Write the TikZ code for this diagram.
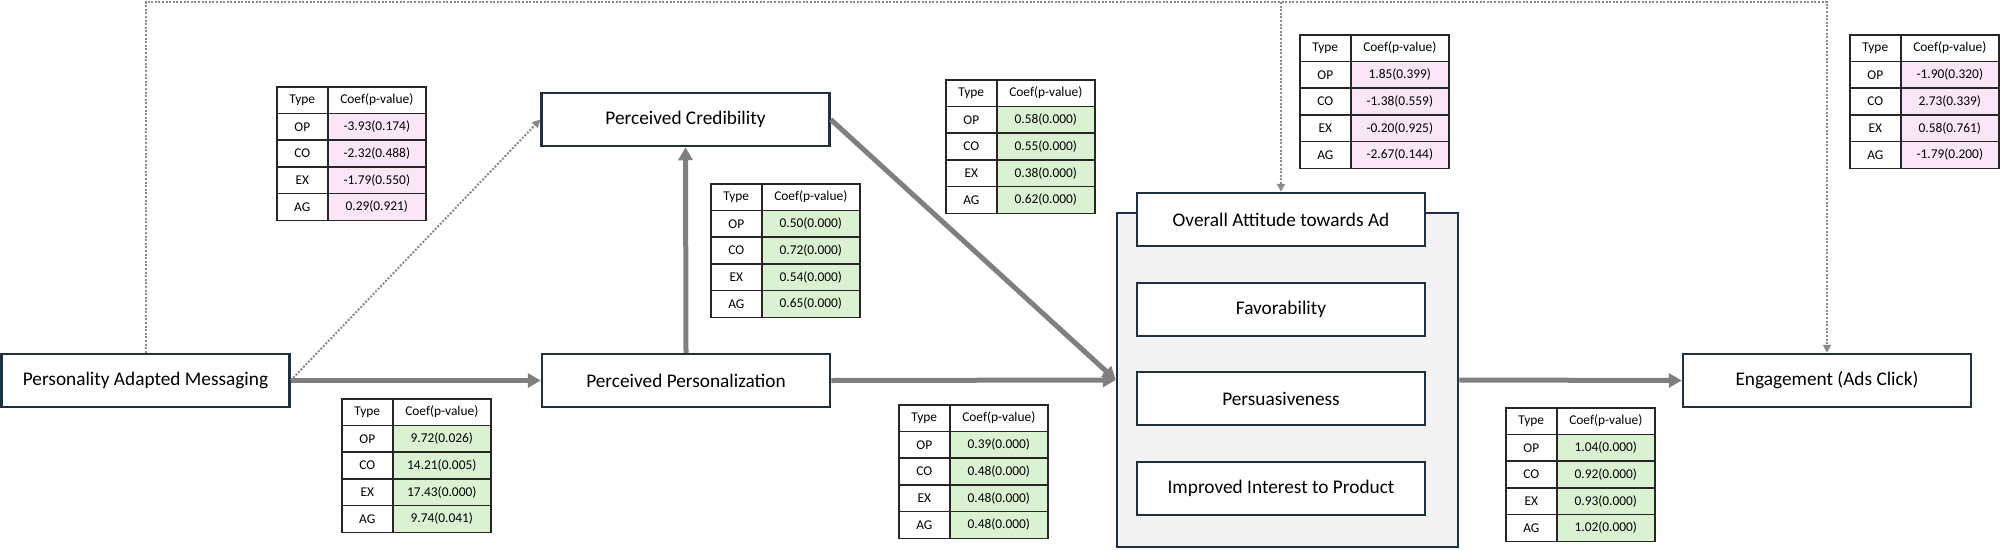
\documentclass[tikz,border=0pt]{standalone}
\usepackage{fontspec}
\setmainfont{Carlito}
\usepackage{tikz}
\usetikzlibrary{arrows.meta,positioning,matrix}
\definecolor{navy}{HTML}{1F3040}
\definecolor{arrgray}{HTML}{7F7F7F}
\definecolor{dotgray}{HTML}{8A8A8A}
\definecolor{grpgray}{HTML}{F2F2F2}
\definecolor{tabline}{HTML}{262626}
\definecolor{pinkc}{HTML}{FAE6F6}
\definecolor{greenc}{HTML}{DBF2D2}
\newcommand\bxfont{\fontsize{19.3}{23}\selectfont}
\newcommand\tblfont{\fontsize{13.4}{16}\selectfont}
\tikzset{
  blk/.style={draw=navy, line width=2.5pt, fill=white, minimum width=288pt,
              minimum height=53pt, inner sep=0pt, font=\bxfont},
  grp/.style={draw=navy, line width=2.5pt, fill=grpgray, minimum width=341pt,
              minimum height=334pt},
  cell/.style={draw=tabline, line width=1.6pt, minimum height=26.7pt,
               inner sep=0pt, font=\tblfont, fill=white, anchor=center,
               align=center},
  coeftab/.style={matrix of nodes, inner sep=0pt, outer sep=0pt,
                  matrix anchor=north west, column sep=-1.6pt, row sep=-1.6pt,
                  nodes={cell},
                  column 1/.style={nodes={text width=51pt}},
                  column 2/.style={nodes={text width=98pt, fill=#1}},
                  row 1 column 2/.style={nodes={fill=white}}},
  flow/.style={draw=arrgray, line width=5pt, -{Triangle[length=13pt,width=14pt]}},
  dotflow/.style={draw=dotgray, line width=2pt, dash pattern=on 2pt off 1.6pt,
                  -{Triangle[length=8pt,width=8pt]}},
}

\begin{document}
\begin{tikzpicture}[x=1pt,y=-1pt]
  \useasboundingbox (0,0) rectangle (2000,549);

  % main boxes
  \node[blk] (pam) at (145.5,380.5) {Personality Adapted Messaging};
  \node[blk] (cred) at (685.5,119.5) {Perceived Credibility};
  \node[blk] (pers) at (686,380.5) {Perceived Personalization};
  \node[grp] (attgrp) at (1287.5,380) {};
  \node[blk] (att) at (1281,219.5) {Overall Attitude towards Ad};
  \node[blk] (fav) at (1281,309.5) {Favorability};
  \node[blk] (persu) at (1281,398.5) {Persuasiveness};
  \node[blk] (intr) at (1281,488.5) {Improved Interest to Product};
  \node[blk] (eng) at (1827,380.5) {Engagement (Ads Click)};

  % paths
  \coordinate (top) at (0,2);
  \draw[flow] (pam.east) -- (pers.west);
  \draw[flow] (pers.north) -- (cred.south);
  \draw[flow] (cred.east) -- (attgrp.west);
  \draw[flow] (pers.east) -- (attgrp.west);
  \draw[flow] (attgrp.east) -- (eng.west);
  \draw[dotflow] (pam.east) -- (cred.west);
  \draw[dotflow] (pam.north) -- (pam.north |- top) -- (eng.north |- top) -- (eng.north);
  \draw[dotflow] (att.north |- top) -- (att.north);

  % coefficient tables
  \matrix[coeftab=pinkc] (tpamcred) at (276,86) {
    Type & Coef(p-value) \\ OP & -3.93(0.174) \\ CO & -2.32(0.488) \\
    EX & -1.79(0.550) \\ AG & 0.29(0.921) \\};
  \matrix[coeftab=greenc] (tpampers) at (341,398) {
    Type & Coef(p-value) \\ OP & 9.72(0.026) \\ CO & 14.21(0.005) \\
    EX & 17.43(0.000) \\ AG & 9.74(0.041) \\};
  \matrix[coeftab=greenc] (tperscred) at (710,183) {
    Type & Coef(p-value) \\ OP & 0.50(0.000) \\ CO & 0.72(0.000) \\
    EX & 0.54(0.000) \\ AG & 0.65(0.000) \\};
  \matrix[coeftab=greenc] (tcredatt) at (945,79) {
    Type & Coef(p-value) \\ OP & 0.58(0.000) \\ CO & 0.55(0.000) \\
    EX & 0.38(0.000) \\ AG & 0.62(0.000) \\};
  \matrix[coeftab=greenc] (tpersatt) at (898,404) {
    Type & Coef(p-value) \\ OP & 0.39(0.000) \\ CO & 0.48(0.000) \\
    EX & 0.48(0.000) \\ AG & 0.48(0.000) \\};
  \matrix[coeftab=pinkc] (tpamatt) at (1299,34) {
    Type & Coef(p-value) \\ OP & 1.85(0.399) \\ CO & -1.38(0.559) \\
    EX & -0.20(0.925) \\ AG & -2.67(0.144) \\};
  \matrix[coeftab=pinkc] (tpameng) at (1849,34) {
    Type & Coef(p-value) \\ OP & -1.90(0.320) \\ CO & 2.73(0.339) \\
    EX & 0.58(0.761) \\ AG & -1.79(0.200) \\};
  \matrix[coeftab=greenc] (tatteng) at (1505,407) {
    Type & Coef(p-value) \\ OP & 1.04(0.000) \\ CO & 0.92(0.000) \\
    EX & 0.93(0.000) \\ AG & 1.02(0.000) \\};
\end{tikzpicture}
\end{document}
